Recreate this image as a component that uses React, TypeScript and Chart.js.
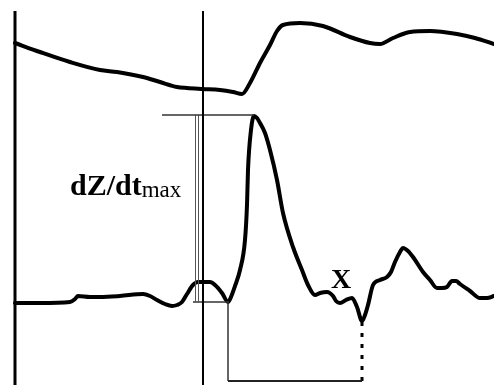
import React, { useEffect, useRef } from "react";
import { Chart, registerables } from "chart.js";

Chart.register(...registerables);

// Time axis (sample positions) and amplitude values
const impedanceTime = [15, 40, 70, 100, 117, 143, 160, 177, 187, 203, 220, 233, 242, 250, 260, 270, 277, 283, 300, 323, 350, 370, 380, 393, 410, 430, 457, 475, 494];
const impedanceValue = [43, 52, 62, 70, 72, 77, 82, 87, 88, 89, 90, 92, 94, 83, 63, 45, 31, 25, 23, 26, 37, 43, 44, 38, 32, 31, 34, 38, 44];

const derivTime = [15, 40, 70, 75, 78, 90, 100, 120, 143, 150, 157, 165, 172, 177, 182, 187, 193, 198, 203, 210, 215, 222, 228, 231, 235, 240, 245, 247, 248, 251, 254, 257, 260, 265, 270, 277, 283, 293, 302, 308, 315, 320, 327, 333, 336, 340, 346, 352, 357, 362, 365, 368, 373, 380, 387, 391, 395, 400, 403, 408, 413, 423, 430, 437, 442, 447, 452, 456, 460, 470, 480, 487, 494];
const derivValue = [303, 303, 302, 299, 296, 297, 297, 296, 294, 296, 300, 304, 306, 305, 302, 294, 285, 282, 282, 282, 285, 293, 302, 297, 286, 270, 240, 205, 170, 130, 116, 118, 123, 133, 150, 180, 213, 247, 270, 285, 295, 293, 292, 296, 301, 303, 300, 298, 307, 321, 315, 305, 285, 280, 277, 272, 262, 252, 248, 251, 257, 272, 280, 288, 288, 287, 281, 281, 284, 291, 298, 298, 296];

// Reference markers
const axisTime = 15;
const markerTime = 203;
const chartTop = 11;
const chartBottom = 385;
const peakLevel = 115;
const peakTime = 254;
const bracketTime = 197;
const baseLevel = 302;
const onsetTime = 228;
const xPointTime = 362;
const xPointValue = 322;
const intervalLevel = 381;

const labelMain = "dZ/dt";
const labelSub = "max";
const labelX = "X";

function pts(xs: number[], ys: number[]) {
  return xs.map((x, i) => ({ x, y: ys[i] }));
}

function seg(a: [number, number], b: [number, number], color: string, width: number, dash: number[] = []) {
  return {
    data: [{ x: a[0], y: a[1] }, { x: b[0], y: b[1] }],
    borderColor: color,
    borderWidth: width,
    borderDash: dash,
    pointRadius: 0,
    tension: 0,
    fill: false,
  };
}

export default function App() {
  const ref = useRef<HTMLCanvasElement | null>(null);
  useEffect(() => {
    if (!ref.current) return;
    const textPlugin = {
      id: "labels",
      afterDatasetsDraw(chart: any) {
        const { ctx, scales } = chart;
        const xs = scales.x;
        const ys = scales.y;
        ctx.save();
        ctx.fillStyle = "#000";
        ctx.textBaseline = "alphabetic";
        ctx.textAlign = "left";
        ctx.font = "bold 30px 'Liberation Serif'";
        const mx = xs.getPixelForValue(70);
        const my = ys.getPixelForValue(195);
        ctx.fillText(labelMain, mx, my);
        const w = ctx.measureText(labelMain).width;
        ctx.font = "23px 'Liberation Serif'";
        ctx.fillText(labelSub, mx + w, ys.getPixelForValue(197));
        ctx.font = "bold 28px 'Liberation Serif'";
        ctx.fillText(labelX, xs.getPixelForValue(331), ys.getPixelForValue(288));
        ctx.restore();
      },
    };
    const curve = (data: any) => ({
      data,
      borderColor: "#000",
      borderWidth: 4,
      pointRadius: 0,
      cubicInterpolationMode: "monotone" as const,
      borderJoinStyle: "round" as const,
      borderCapStyle: "round" as const,
      fill: false,
    });
    const chart = new Chart(ref.current, {
      type: "line",
      data: {
        datasets: [
          seg([axisTime, chartTop], [axisTime, chartBottom], "#000", 3),
          seg([markerTime, chartTop], [markerTime, chartBottom], "#000", 2),
          seg([162, peakLevel], [peakTime, peakLevel], "#333", 1.5),
          seg([bracketTime - 1.5, peakLevel], [bracketTime - 1.5, baseLevel], "#555", 1),
          seg([bracketTime + 1.5, peakLevel], [bracketTime + 1.5, baseLevel], "#555", 1),
          seg([193, baseLevel], [onsetTime + 1, baseLevel], "#333", 1.5),
          seg([onsetTime, baseLevel], [onsetTime, intervalLevel], "#333", 1.5),
          seg([onsetTime, intervalLevel], [xPointTime, intervalLevel], "#222", 2),
          seg([xPointTime, xPointValue], [xPointTime, intervalLevel], "#000", 3, [4, 7]),
          curve(pts(impedanceTime, impedanceValue)),
          curve(pts(derivTime, derivValue)),
        ] as any,
      },
      options: {
        responsive: false,
        animation: false,
        layout: { padding: 0 },
        plugins: { legend: { display: false }, tooltip: { enabled: false } },
        scales: {
          x: { type: "linear", min: 0, max: 494, display: false },
          y: { type: "linear", min: 0, max: 385, reverse: true, display: false },
        },
      },
      plugins: [textPlugin],
    });
    return () => chart.destroy();
  }, []);
  return (
    <div style={{ position: "absolute", left: 0, top: 0, width: 494, height: 385, background: "#fff" }}>
      <canvas ref={ref} width={494} height={385} style={{ display: "block" }} />
    </div>
  );
}
